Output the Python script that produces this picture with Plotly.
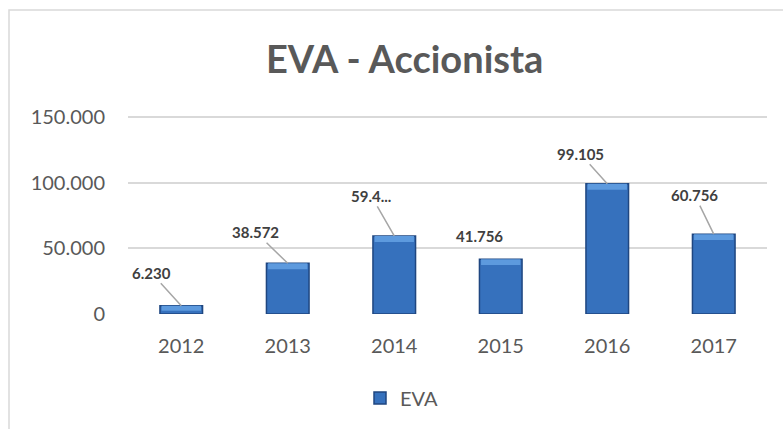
import plotly.graph_objects as go

years = [2012, 2013, 2014, 2015, 2016, 2017]
eva = [6230, 38572, 59400, 41756, 99105, 60756]
labels = ["6.230", "38.572", "59.4...", "41.756", "99.105", "60.756"]
y_ticks = [0, 50000, 100000, 150000]
y_tick_text = ["0", "50.000", "100.000", "150.000"]

# label offsets (pixels) for the leader-line callouts
label_dx = [-30, -32, -23, -21, -27, -19]
label_dy = [-33, -31, -40, -23, -30, -39]
show_line = [True, True, True, False, True, True]

BEVEL = 4500  # height of the lighter top bevel (decoration), in axis units
bevel_h = [min(BEVEL, v * 0.6) for v in eva]
bevel_base = [v - h for v, h in zip(eva, bevel_h)]

fig = go.Figure()
fig.add_trace(go.Bar(
    x=years, y=eva, name="EVA", width=0.4,
    marker=dict(color="#3671bd", line=dict(color="#1f4680", width=1.5)),
    showlegend=True,
))
fig.add_trace(go.Bar(
    x=years, y=bevel_h, base=bevel_base, width=0.37,
    marker=dict(color="#5d9ade", line=dict(width=0)),
    showlegend=False, hoverinfo="skip",
))

for yr, v, t, dx, dy, sl in zip(years, eva, labels, label_dx, label_dy, show_line):
    fig.add_annotation(
        x=yr, y=v, text=t, showarrow=True, ax=dx, ay=dy,
        arrowhead=0, arrowwidth=1.5, standoff=0,
        arrowcolor="#a6a6a6" if sl else "rgba(0,0,0,0)",
        font=dict(family="Lato", size=15, color="#404040", weight="bold"),
    )

W, H = 783, 429
L, R, T, B = 128, 16, 113, 115
pw, ph = W - L - R, H - T - B
y_top = 153000

fig.add_annotation(
    xref="paper", yref="paper", x=(404 - L) / pw, y=((H - B) - 58) / ph,
    text="<b>EVA - Accionista</b>", showarrow=False, xanchor="center", yanchor="middle",
    font=dict(family="Lato", size=38, color="#595959"),
)

grid_shapes = [dict(
    type="line", xref="paper", yref="y", x0=0, x1=1, y0=tv, y1=tv,
    line=dict(color="#d9d9d9", width=1.5), layer="below",
) for tv in y_ticks[-1:]]

fig.update_layout(
    width=W, height=H,
    margin=dict(l=L, r=R, t=T, b=B, autoexpand=False),
    paper_bgcolor="white", plot_bgcolor="white",
    barmode="overlay",
    font=dict(family="Lato", color="#595959"),
    legend=dict(
        orientation="h", x=(402 - L) / pw, y=-((398 - (H - B)) / ph),
        xanchor="center", yanchor="middle", bgcolor="rgba(0,0,0,0)",
        font=dict(family="Lato", size=20, color="#595959"),
    ),
    xaxis=dict(
        type="linear", range=[years[0] - 0.5, years[-1] + 0.5],
        tickvals=years, ticktext=[str(y) for y in years],
        showgrid=False, showline=False, zeroline=False, ticks="",
        tickfont=dict(family="Lato", size=20, color="#595959"),
        ticklabelstandoff=18,
    ),
    yaxis=dict(
        range=[0, y_top], autorange=False, tickmode="array",
        tickvals=y_ticks, ticktext=y_tick_text,
        showgrid=True, gridcolor="#d9d9d9", gridwidth=1.5,
        zeroline=False, showline=False, ticks="",
        tickfont=dict(family="Lato", size=20, color="#595959"),
        ticklabelstandoff=22,
    ),
    shapes=[dict(
        type="rect", xref="paper", yref="paper",
        x0=(9 - L) / pw, x1=(W + 20 - L) / pw,
        y0=-(H + 20 - (H - B)) / ph, y1=((H - B) - 10) / ph,
        line=dict(color="#d9d9d9", width=1.5), fillcolor="rgba(0,0,0,0)", layer="above",
    )] + grid_shapes,
)

fig.write_html("out.html", config={"displayModeBar": False},
               post_script="document.body.style.margin='0';")
